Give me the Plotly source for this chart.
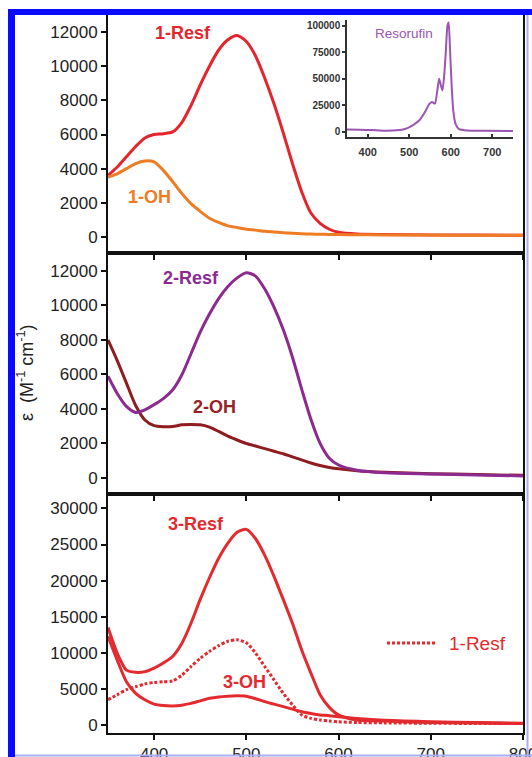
import plotly.graph_objects as go

# ---------------- data ----------------
wl = [350, 360, 370, 380, 390, 400, 410, 420, 430, 440, 450, 460, 470, 480, 490,
      500, 510, 520, 530, 540, 550, 560, 570, 580, 590, 600, 620, 650, 700, 750, 800]

resf1 = [3600, 4100, 4700, 5300, 5800, 6000, 6050, 6150, 6700, 7700, 8900, 10000, 10950, 11550, 11800,
         11450, 10600, 9300, 7800, 6100, 4300, 2650, 1400, 800, 450, 270, 170, 140, 120, 110, 100]
oh1 = [3500, 3700, 4000, 4300, 4450, 4400, 3900, 3250, 2550, 1950, 1500, 1100, 850, 650, 550,
       450, 400, 330, 290, 250, 220, 190, 170, 160, 150, 140, 130, 120, 110, 100, 100]

resf2 = [5900, 4900, 4150, 3800, 3950, 4250, 4600, 5100, 5970, 7200, 8450, 9500, 10400, 11100, 11600,
         11900, 11700, 10950, 9900, 8600, 7000, 5150, 3400, 2000, 1140, 750, 450, 300, 230, 170, 120]
oh2 = [8000, 6800, 5500, 4200, 3360, 3030, 2970, 2980, 3080, 3100, 3080, 2950, 2700, 2420, 2200,
       2000, 1850, 1700, 1550, 1400, 1220, 1050, 870, 720, 610, 530, 420, 330, 250, 200, 150]

resf3 = [13500, 9950, 7600, 7300, 7400, 7900, 8600, 9500, 11300, 14100, 17400, 20400, 23100, 25200, 26700,
         27100, 25800, 23500, 20600, 17400, 14100, 10400, 7200, 4200, 2450, 1400, 700, 550, 350, 280, 200]
oh3 = [12300, 9000, 6000, 4400, 3500, 2900, 2700, 2650, 2750, 3000, 3350, 3700, 3900, 4000, 4050,
       4000, 3650, 3250, 2900, 2550, 2200, 1850, 1600, 1400, 1300, 1150, 900, 650, 450, 350, 250]
resf1_ref = [3500, 4200, 4900, 5300, 5700, 5900, 6000, 6100, 6900, 8100, 9250, 10200, 11000, 11600, 11800,
             11400, 9950, 8100, 6250, 4400, 2800, 1400, 930, 700, 550, 450, 350, 300, 250, 220, 200]

res_wl = [350, 380, 410, 440, 470, 490, 510, 525, 540, 548, 555, 562, 568, 572, 576, 580, 584,
          588, 592, 595, 598, 602, 606, 612, 620, 640, 680, 750]
res_val = [2000, 1800, 1500, 1000, 1300, 2500, 6500, 11000, 20000, 26000, 28000, 26500, 40000, 50000,
           44000, 39000, 52000, 75000, 100000, 103000, 80000, 45000, 20000, 7000, 2500, 1200, 800, 700]

x_ticks = [400, 500, 600, 700, 800]
y_ticks_12k = [0, 2000, 4000, 6000, 8000, 10000, 12000]
y_ticks_30k = [0, 5000, 10000, 15000, 20000, 25000, 30000]
inset_xticks = [400, 500, 600, 700]
inset_yticks = [0, 25000, 50000, 75000, 100000]

# ---------------- geometry helpers (layout only) ----------------
W, H = 532, 757
ML, MR, MT, MB = 108, 9, 15, 24
PW, PH = W - ML - MR, H - MT - MB


def px(x):
    return (x - ML) / PW


def py(y):
    return (H - MB - y) / PH


FONT = "Liberation Sans, Arial, sans-serif"
RED = "#e3262d"
ORANGE = "#ef7b23"
PURPLE = "#8c2a90"
DKRED = "#8e1c20"
RED3 = "#e32a2f"
INSET = "#9b55b3"

d3 = [0, 239 / PH]
d2 = [239 / PH, 480 / PH]
d1 = [480 / PH, 1]

fig = go.Figure()
spl = dict(shape="spline", smoothing=0.7)

# panel 1 (top)
fig.add_trace(go.Scatter(x=wl, y=resf1, xaxis="x3", yaxis="y3", mode="lines",
                         line=dict(color=RED, width=3, **spl), showlegend=False))
fig.add_trace(go.Scatter(x=wl, y=oh1, xaxis="x3", yaxis="y3", mode="lines",
                         line=dict(color=ORANGE, width=3, **spl), showlegend=False))
# panel 2
fig.add_trace(go.Scatter(x=wl, y=oh2, xaxis="x2", yaxis="y2", mode="lines",
                         line=dict(color=DKRED, width=3, **spl), showlegend=False))
fig.add_trace(go.Scatter(x=wl, y=resf2, xaxis="x2", yaxis="y2", mode="lines",
                         line=dict(color=PURPLE, width=3, **spl), showlegend=False))
# panel 3
fig.add_trace(go.Scatter(x=wl, y=resf1_ref, xaxis="x", yaxis="y", mode="lines",
                         line=dict(color=RED3, width=3, dash="3px,2px", **spl), showlegend=False))
fig.add_trace(go.Scatter(x=wl, y=resf3, xaxis="x", yaxis="y", mode="lines",
                         line=dict(color=RED3, width=3, **spl), showlegend=False))
fig.add_trace(go.Scatter(x=wl, y=oh3, xaxis="x", yaxis="y", mode="lines",
                         line=dict(color=RED3, width=3, **spl), showlegend=False))
# inset
fig.add_trace(go.Scatter(x=res_wl, y=res_val, xaxis="x4", yaxis="y4", mode="lines",
                         line=dict(color=INSET, width=2, shape="spline", smoothing=0.5), showlegend=False))

xcommon = dict(range=[350, 800], tickvals=x_ticks, ticks="outside", ticklen=5, tickwidth=2,
               tickcolor="#111", showline=True, linewidth=2, linecolor="#111", mirror=True,
               showgrid=False, zeroline=False, automargin=False, ticklabeloverflow="allow",
               tickfont=dict(family=FONT, size=17, color="#222"))
ycommon = dict(ticks="outside", ticklen=5, tickwidth=2, tickcolor="#111", showline=True,
               linewidth=2, linecolor="#111", mirror=True, showgrid=False, zeroline=False,
               automargin=False, tickformat="d",
               tickfont=dict(family=FONT, size=17, color="#222"))

fig.update_layout(
    width=W, height=H,
    margin=dict(l=ML, r=MR, t=MT, b=MB, autoexpand=False),
    paper_bgcolor="white", plot_bgcolor="white",
    showlegend=False,
    xaxis=dict(**xcommon, domain=[0, 1], anchor="y", ticklabelstandoff=0),
    yaxis=dict(**ycommon, domain=d3, anchor="x", range=[-1100, 32000], tickvals=y_ticks_30k),
    xaxis2=dict(**xcommon, domain=[0, 1], anchor="y2", showticklabels=False),
    yaxis2=dict(**ycommon, domain=d2, anchor="x2", range=[-930, 13040], tickvals=y_ticks_12k),
    xaxis3=dict(**xcommon, domain=[0, 1], anchor="y3", showticklabels=False),
    yaxis3=dict(**ycommon, domain=d1, anchor="x3", range=[-940, 13000], tickvals=y_ticks_12k),
    xaxis4=dict(domain=[px(347), px(513)], anchor="y4", range=[350, 750], tickvals=inset_xticks,
                ticks="inside", ticklen=3, tickwidth=1.5, tickcolor="#333", showline=True,
                linewidth=1.5, linecolor="#333", showgrid=False, zeroline=False,
                ticklabelstandoff=4, automargin=False,
                tickfont=dict(family=FONT, size=11, color="#333", weight="bold")),
    yaxis4=dict(domain=[py(137), py(20)], anchor="x4", range=[-5000, 105400], tickvals=inset_yticks,
                ticks="outside", ticklen=3, tickwidth=1.5, tickcolor="#333", showline=True,
                linewidth=1.5, linecolor="#333", showgrid=False, zeroline=False,
                tickformat="d", automargin=False,
                tickfont=dict(family=FONT, size=10, color="#333", weight="bold")),
)

ann = []


def lab(text, x, y, xr, yr, color, size=18, bold=True):
    ann.append(dict(text=text, x=x, y=y, xref=xr, yref=yr, showarrow=False,
                    font=dict(family=FONT, size=size, color=color, weight="bold" if bold else "normal"),
                    xanchor="center", yanchor="middle"))


lab("1-Resf", 431, 11950, "x3", "y3", RED)
lab("1-OH", 395, 2340, "x3", "y3", ORANGE)
lab("2-Resf", 440, 11600, "x2", "y2", PURPLE)
lab("2-OH", 466, 4100, "x2", "y2", "#962426")
lab("3-Resf", 445, 27800, "x", "y", RED3)
lab("3-OH", 498, 5970, "x", "y", RED3)
lab("Resorufin", 488, 93000, "x4", "y4", INSET, size=13.5, bold=False)

# legend entry for dotted reference spectrum
ann.append(dict(text="1-Resf", x=px(447), y=py(643), xref="paper", yref="paper", showarrow=False,
                xanchor="left", yanchor="middle", font=dict(family=FONT, size=19, color=RED3)))
# y-axis title
ann.append(dict(text="ε  (M<sup>-1</sup> cm<sup>-1</sup>)", x=px(25), y=py(373), xref="paper", yref="paper",
                showarrow=False, textangle=-90, xanchor="center", yanchor="middle",
                font=dict(family=FONT, size=18, color="#222")))
fig.update_layout(annotations=ann)

shapes = [
    # legend sample line
    dict(type="line", xref="paper", yref="paper", x0=px(387), x1=px(435), y0=py(643), y1=py(643),
         line=dict(color=RED3, width=3, dash="3px,2px")),
    # blue frame
    dict(type="rect", xref="paper", yref="paper", x0=px(8), x1=px(15), y0=py(H + 2), y1=py(9),
         fillcolor="#0a0aff", line=dict(width=0), layer="above"),
    dict(type="rect", xref="paper", yref="paper", x0=px(8), x1=px(W + 2), y0=py(15), y1=py(9),
         fillcolor="#0a0aff", line=dict(width=0), layer="above"),
    dict(type="line", xref="paper", yref="paper", x0=px(527.5), x1=px(527.5), y0=py(H + 2), y1=py(15),
         line=dict(color="#a9b0f5", width=2), layer="above"),
    dict(type="line", xref="paper", yref="paper", x0=px(15), x1=px(W + 2), y0=py(755.5), y1=py(755.5),
         line=dict(color="#a9b0f5", width=2), layer="above"),
]
fig.update_layout(shapes=shapes)

fig.write_html("out.html")
